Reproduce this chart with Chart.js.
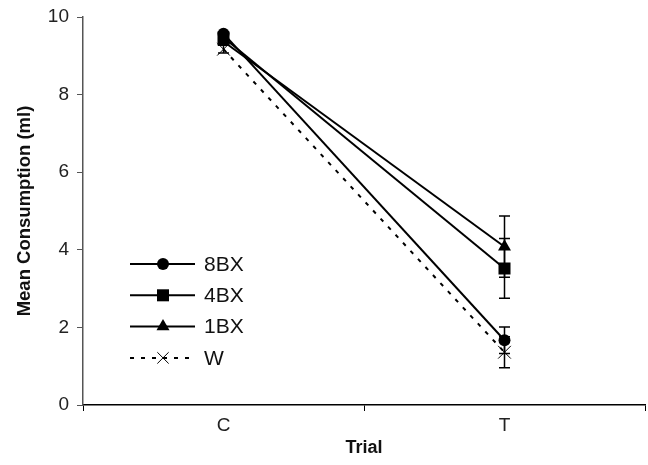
<!DOCTYPE html>
<html lang="en">
<head>
    <meta charset="UTF-8">
    <title>Mean Consumption by Trial</title>
    <style>
        body { margin: 0; background: #ffffff; }
        #wrap { width: 648px; height: 465px; }
    </style>
    <script src="https://cdn.jsdelivr.net/npm/chart.js"></script>
</head>
<body>
    <div id="wrap"><canvas id="chart" width="648" height="465"></canvas></div>
    <script>
        const trials = ['C', 'T'];
        const groups = ['8BX', '4BX', '1BX', 'W'];
        const mean8BX = [9.57, 1.67];
        const mean4BX = [9.47, 3.52];
        const mean1BX = [9.37, 4.08];
        const meanW = [9.17, 1.36];
        const err8BX = [0, 0.34];
        const err4BX = [0, 0.77];
        const err1BX = [0, 0.79];
        const errW = [0.1, 0.40];

        const FONT = '"Liberation Sans", Arial, sans-serif';

        const series = [
            { label: groups[0], data: mean8BX, err: err8BX, pointStyle: 'circle', pointRadius: 6, dash: [] },
            { label: groups[1], data: mean4BX, err: err4BX, pointStyle: 'rect', pointRadius: 8.5, dash: [] },
            { label: groups[2], data: mean1BX, err: err1BX, pointStyle: 'triangle', pointRadius: 7.5, dash: [] },
            { label: groups[3], data: meanW, err: errW, pointStyle: 'crossRot', pointRadius: 9, dash: [4, 7] }
        ];

        // error bars drawn through the y scale
        const errorBars = {
            id: 'errorBars',
            afterDatasetsDraw(chart) {
                const ctx = chart.ctx;
                const y = chart.scales.y;
                ctx.save();
                ctx.strokeStyle = '#000';
                ctx.lineWidth = 1.5;
                chart.data.datasets.forEach((ds, i) => {
                    const meta = chart.getDatasetMeta(i);
                    ds.data.forEach((v, j) => {
                        const e = ds.err[j];
                        if (!e) return;
                        const x = meta.data[j].x;
                        const top = y.getPixelForValue(v + e);
                        const bot = y.getPixelForValue(v - e);
                        ctx.beginPath();
                        ctx.moveTo(x, top); ctx.lineTo(x, bot);
                        ctx.moveTo(x - 5.5, top); ctx.lineTo(x + 5.5, top);
                        ctx.moveTo(x - 5.5, bot); ctx.lineTo(x + 5.5, bot);
                        ctx.stroke();
                    });
                });
                ctx.restore();
            }
        };

        // legend inside the plot, left side
        const insideLegend = {
            id: 'insideLegend',
            afterDraw(chart) {
                const ctx = chart.ctx;
                const a = chart.chartArea;
                ctx.save();
                chart.data.datasets.forEach((ds, i) => {
                    const ry = a.top + 247 + i * 31.3;
                    const x0 = a.left + 47, x1 = a.left + 112, xm = a.left + 80;
                    ctx.strokeStyle = '#000';
                    ctx.lineWidth = ds.borderWidth;
                    ctx.setLineDash(ds.borderDash);
                    ctx.beginPath();
                    ctx.moveTo(x0, ry); ctx.lineTo(x1, ry);
                    ctx.stroke();
                    ctx.setLineDash([]);
                    drawMarker(ctx, ds.pointStyle, ds.pointStyle === 'crossRot' ? 8 : ds.pointRadius, xm, ry);
                    ctx.fillStyle = '#111';
                    ctx.font = '21px ' + FONT;
                    ctx.textBaseline = 'middle';
                    ctx.fillText(ds.label, a.left + 121, ry + 1);
                });
                ctx.restore();
            }
        };

        function drawMarker(ctx, style, r, x, y) {
            ctx.fillStyle = '#000';
            ctx.strokeStyle = '#000';
            ctx.beginPath();
            if (style === 'circle') {
                ctx.arc(x, y, r, 0, Math.PI * 2);
                ctx.fill();
            } else if (style === 'rect') {
                const s = r * Math.SQRT1_2;
                ctx.rect(x - s, y - s, 2 * s, 2 * s);
                ctx.fill();
            } else if (style === 'triangle') {
                ctx.moveTo(x, y - r);
                ctx.lineTo(x + r * 0.87, y + r * 0.5);
                ctx.lineTo(x - r * 0.87, y + r * 0.5);
                ctx.closePath();
                ctx.fill();
            } else {
                const d = r * Math.SQRT1_2;
                ctx.lineWidth = 1;
                ctx.moveTo(x - d, y - d); ctx.lineTo(x + d, y + d);
                ctx.moveTo(x + d, y - d); ctx.lineTo(x - d, y + d);
                ctx.stroke();
            }
        }

        new Chart(document.getElementById('chart'), {
            type: 'line',
            data: {
                labels: trials,
                datasets: series.map(s => ({
                    label: s.label,
                    data: s.data,
                    err: s.err,
                    borderColor: '#000',
                    backgroundColor: '#000',
                    borderWidth: 2,
                    borderDash: s.dash,
                    pointStyle: s.pointStyle,
                    pointRadius: s.pointRadius,
                    pointBorderWidth: s.pointStyle === 'crossRot' ? 1 : 0,
                    pointBorderColor: '#000',
                    pointBackgroundColor: '#000',
                    tension: 0
                }))
            },
            options: {
                responsive: false,
                animation: false,
                layout: { autoPadding: false, padding: { top: 17, right: 3, bottom: 0, left: 0 } },
                plugins: {
                    legend: { display: false },
                    tooltip: { enabled: false }
                },
                scales: {
                    x: {
                        type: 'category',
                        offset: true,
                        grid: {
                            offset: true,
                            drawOnChartArea: false,
                            drawTicks: true,
                            tickLength: 6,
                            color: '#000'
                        },
                        border: { color: '#000', width: 1.5 },
                        ticks: { color: '#222', font: { family: FONT, size: 19 }, padding: 3 },
                        title: {
                            display: true,
                            text: 'Trial',
                            color: '#111',
                            font: { family: FONT, size: 18, weight: 'bold' },
                            padding: { top: 0, bottom: 6 }
                        },
                        afterFit(scale) {
                            scale.height = 60;
                            scale.paddingLeft = 0;
                            scale.paddingRight = 0;
                        }
                    },
                    y: {
                        min: 0,
                        max: 10,
                        ticks: { stepSize: 2, color: '#222', font: { family: FONT, size: 19 }, padding: 8 },
                        grid: {
                            drawOnChartArea: false,
                            drawTicks: true,
                            tickLength: 6,
                            color: '#555'
                        },
                        border: { color: '#555', width: 1.5 },
                        title: {
                            display: true,
                            text: 'Mean Consumption (ml)',
                            color: '#111',
                            font: { family: FONT, size: 18.5, weight: 'bold' },
                            padding: { top: 14, bottom: 0 }
                        },
                        afterFit(scale) {
                            scale.width = 83;
                            scale.paddingTop = 0;
                            scale.paddingBottom = 0;
                        }
                    }
                }
            },
            plugins: [errorBars, insideLegend]
        });
    </script>
</body>
</html>
